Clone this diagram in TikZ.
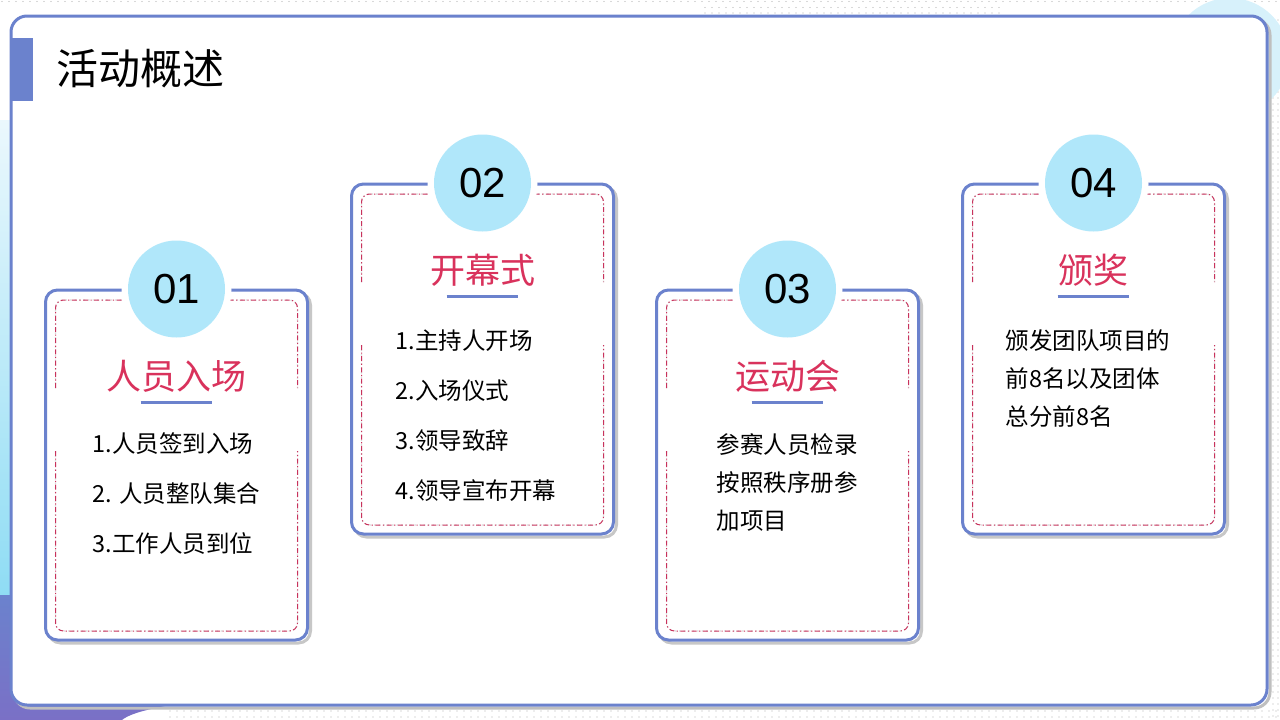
\documentclass[tikz,border=0pt]{standalone}
\usepackage{fontspec}
\setmainfont{Noto Sans CJK SC}
\newfontfamily\numfont{Liberation Sans}
\usepackage{tikz}
\usetikzlibrary{calc,positioning}

\definecolor{frameblue}{HTML}{6B82CD}
\definecolor{discblue}{HTML}{B0E7FA}
\definecolor{titlered}{HTML}{D9325C}
\definecolor{dashred}{HTML}{C8325C}
\definecolor{skyblue}{HTML}{D7F1FB}
\definecolor{cyanedge}{HTML}{8EDCF4}
\definecolor{violet}{HTML}{7A70C6}

\begin{document}
\begin{tikzpicture}[
   x=1pt, y=-1pt,
   card/.style={draw=frameblue, line width=3pt, fill=white, rounded corners=12pt,
      minimum width=262pt, minimum height=350pt, inner sep=0pt, outer sep=0pt},
   cardshadow/.style={draw=black!22, line width=3pt, rounded corners=12pt},
   innerline/.style={draw=dashred, line width=1pt, rounded corners=8pt,
      dash pattern=on 5pt off 2.5pt on 1.2pt off 2.5pt},
   innershade/.style={draw=black!15, line width=1.2pt, rounded corners=8pt,
      dash pattern=on 1.5pt off 3pt},
   numdisc/.style={circle, fill=discblue, minimum size=97pt, inner sep=0pt,
      font=\numfont\fontsize{42}{42}\selectfont},
   cardtitle/.style={text=titlered, inner sep=0pt, font=\fontsize{35}{35}\selectfont},
   itemlist/.style={anchor=west, align=left, inner sep=0pt, font=\fontsize{23.5}{50}\selectfont},
   dotmark/.style={fill=black!30},
]
   \useasboundingbox (0,0) rectangle (1280,720);

   % background: dots in the margins, blue shapes at the corners
   \foreach \x in {2,9,...,1280}
   \fill[dotmark] (\x,1.5) circle (0.6pt);
   \foreach \x in {705,712,...,1000}
   {\fill[dotmark] (\x,7.5) circle (0.6pt);
    \fill[dotmark] (\x,13) circle (0.6pt);}
   \foreach \y in {20,26,...,720}
   {\fill[dotmark] (1273,\y) circle (0.6pt);
    \fill[dotmark] (1278,\y) circle (0.6pt);}
   \foreach \x in {170,177,...,1280}
   {\fill[dotmark] (\x,711) circle (0.6pt);
    \fill[dotmark] (\x,717) circle (0.6pt);}
   \fill[skyblue] (1230,57) circle (59pt);
   \shade[top color=skyblue!50, bottom color=cyanedge] (0,120) rectangle (25,600);
   \shade[top color=frameblue, bottom color=violet]
      (0,595) -- (25,595) -- (25,706) -- (165,706)
      .. controls (140,711) and (128,715) .. (122,720) -- (0,720) -- cycle;

   % outer frame and heading
   \draw[black!25, line width=3pt, rounded corners=16pt] (14,19) rectangle (1270,708);
   \draw[frameblue, line width=3pt, fill=white, rounded corners=16pt] (11,16) rectangle (1267,705);
   \fill[frameblue] (11,38) rectangle (33,101);
   \node[anchor=west, inner sep=0pt, font=\fontsize{42}{42}\selectfont] (heading) at (56,69) {活动概述};

   % the four cards
   \foreach \i/\cx/\cy/\ttl in {1/176.5/465/人员入场, 2/482.5/359/开幕式,
                                 3/787.5/465/运动会, 4/1093.5/359/颁奖} {
      \draw[cardshadow] (\cx-128,\cy-172) rectangle (\cx+134,\cy+178);
      \node[card] (card\i) at (\cx,\cy) {};
      \foreach \dx/\sty in {4/innershade, 0/innerline} {
         \draw[\sty, xshift=\dx pt]
            ($(card\i.north west)+(10,98)$) -- ($(card\i.north west)+(10,10)$)
            -- ($(card\i.north east)+(-10,10)$) -- ($(card\i.north east)+(-10,98)$);
         \draw[\sty, xshift=\dx pt]
            ($(card\i.north west)+(10,161)$) -- ($(card\i.south west)+(10,-9)$)
            -- ($(card\i.south east)+(-10,-9)$) -- ($(card\i.north east)+(-10,161)$);
      }
      \fill[white] (card\i.north) circle (55pt);
      \node[numdisc] (disc\i) at ($(card\i.north)+(0,-1)$) {0\i};
      \node[cardtitle] (title\i) at ($(card\i.north)+(0,86)$) {\ttl};
      \draw[frameblue, line width=3pt]
         ($(card\i.north)+(-36,112)$) -- ($(card\i.north)+(35,112)$);
   }

   % card texts
   \node[itemlist] (list1) at ($(card1.north west)+(47,204)$)
      {1.人员签到入场\\2. 人员整队集合\\3.工作人员到位};
   \node[itemlist] (list2) at ($(card2.north west)+(44,232)$)
      {1.主持人开场\\2.入场仪式\\3.领导致辞\\4.领导宣布开幕};
   \node[itemlist, font=\fontsize{23.5}{38}\selectfont] (list3) at ($(card3.north west)+(60,192)$)
      {参赛人员检录\\按照秩序册参\\加项目};
   \node[itemlist, font=\fontsize{23.5}{38}\selectfont] (list4) at ($(card4.north west)+(43,195)$)
      {颁发团队项目的\\前8名以及团体\\总分前8名};
\end{tikzpicture}
\end{document}
